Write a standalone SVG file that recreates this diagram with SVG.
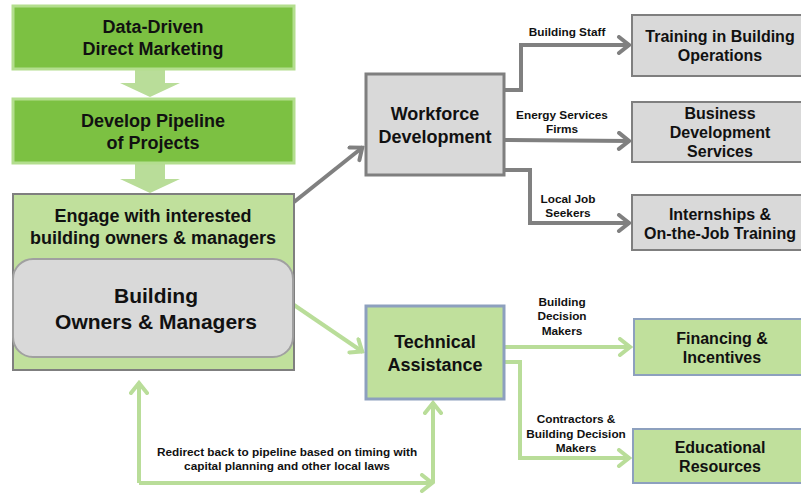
<svg xmlns="http://www.w3.org/2000/svg" width="801" height="493" viewBox="0 0 801 493">
<defs>
<style>
text{font-family:"Liberation Sans",Arial,sans-serif;font-weight:bold;fill:#111;text-anchor:middle}
.t18{font-size:18px}
.t21{font-size:21px}
.t16{font-size:16px}
.lbl{font-size:11.8px}
.gc{fill:none;stroke:#b9dd99;stroke-width:4}
.yc{fill:none;stroke:#808080;stroke-width:4}
</style>
<marker id="ag" markerUnits="userSpaceOnUse" viewBox="-14 -10 16 20" refX="0" refY="0" markerWidth="16" markerHeight="20" orient="auto">
<path d="M-11,-8 L-1,0 L-11,8" fill="none" stroke="#b9dd99" stroke-width="4" stroke-linecap="round" stroke-linejoin="miter"/>
</marker>
<marker id="ay" markerUnits="userSpaceOnUse" viewBox="-14 -10 16 20" refX="0" refY="0" markerWidth="16" markerHeight="20" orient="auto">
<path d="M-11,-8 L-1,0 L-11,8" fill="none" stroke="#808080" stroke-width="4" stroke-linecap="round" stroke-linejoin="miter"/>
</marker>
</defs>
<rect width="801" height="493" fill="#fff"/>

<g id="connectors">
<polygon points="135,70 165,70 165,83 180,83 150,97 120,83 135,83" fill="#b9dd99"/>
<polygon points="135,164 165,164 165,179 180,179 150,193 120,179 135,179" fill="#b9dd99"/>
<path class="yc" d="M294,202 L363,147" marker-end="url(#ay)"/>
<path class="yc" d="M505,90 H521 V45 H630" marker-end="url(#ay)"/>
<path class="yc" d="M505,140 L630,141" marker-end="url(#ay)"/>
<path class="yc" d="M505,170 H530 V223 H630" marker-end="url(#ay)"/>
<path class="gc" d="M294,305 L363,352" marker-end="url(#ag)"/>
<path class="gc" d="M505,347 H631" marker-end="url(#ag)"/>
<path class="gc" d="M505,362 H520 V458 H630" marker-end="url(#ag)"/>
<path class="gc" d="M139,483 V382" marker-end="url(#ag)"/>
<path class="gc" d="M139,483 H433" marker-end="url(#ag)"/>
<path class="gc" d="M433,483 V402" marker-end="url(#ag)"/>
<text class="lbl" x="567" y="36">Building Staff</text>
<text class="lbl" x="562" y="119">Energy Services</text>
<text class="lbl" x="562" y="133">Firms</text>
<text class="lbl" x="568" y="203">Local Job</text>
<text class="lbl" x="568" y="217">Seekers</text>
<text class="lbl" x="562" y="306">Building</text>
<text class="lbl" x="562" y="320">Decision</text>
<text class="lbl" x="562" y="335">Makers</text>
<text class="lbl" x="576" y="423">Contractors &amp;</text>
<text class="lbl" x="576" y="438">Building Decision</text>
<text class="lbl" x="576" y="452">Makers</text>
<text class="lbl" x="287" y="456">Redirect back to pipeline based on timing with</text>
<text class="lbl" x="287" y="470">capital planning and other local laws</text>
</g>

<g id="data-driven">
<rect x="13" y="6" width="281" height="63" fill="#7cc142" stroke="#b3de8e" stroke-width="3"/>
<text class="t18" x="153" y="33">Data-Driven</text>
<text class="t18" x="153" y="55">Direct Marketing</text>
</g>

<g id="pipeline">
<rect x="13" y="99" width="281" height="64" fill="#7cc142" stroke="#b3de8e" stroke-width="3"/>
<text class="t18" x="153" y="127">Develop Pipeline</text>
<text class="t18" x="153" y="149">of Projects</text>
</g>

<g id="engage">
<rect x="13" y="194" width="281" height="176" fill="#c0e09c" stroke="#7f7f7f" stroke-width="2"/>
<text class="t18" x="153" y="222">Engage with interested</text>
<text class="t18" x="153" y="244">building owners &amp; managers</text>
</g>

<g id="owners">
<rect x="13" y="259" width="280" height="98" rx="20" fill="#d9d9d9" stroke="#a0a0a0" stroke-width="2"/>
<text class="t21" x="156" y="303">Building</text>
<text class="t21" x="156" y="329">Owners &amp; Managers</text>
</g>

<g id="workforce">
<rect x="366" y="74" width="138" height="101" fill="#d9d9d9" stroke="#7f7f7f" stroke-width="3"/>
<text class="t18" x="435" y="120">Workforce</text>
<text class="t18" x="435" y="143">Development</text>
</g>

<g id="training">
<rect x="632" y="15" width="180" height="61" fill="#d9d9d9" stroke="#7f7f7f" stroke-width="2"/>
<text class="t16" x="720" y="42">Training in Building</text>
<text class="t16" x="720" y="61">Operations</text>
</g>

<g id="business">
<rect x="632" y="102" width="180" height="60" fill="#d9d9d9" stroke="#7f7f7f" stroke-width="2"/>
<text class="t16" x="720" y="119">Business</text>
<text class="t16" x="720" y="138">Development</text>
<text class="t16" x="720" y="157">Services</text>
</g>

<g id="internships">
<rect x="632" y="195" width="180" height="55" fill="#d9d9d9" stroke="#7f7f7f" stroke-width="2"/>
<text class="t16" x="720" y="220">Internships &amp;</text>
<text class="t16" x="720" y="239">On-the-Job Training</text>
</g>

<g id="technical">
<rect x="366" y="306" width="138" height="93" fill="#c0e09c" stroke="#8da0be" stroke-width="3"/>
<text class="t18" x="435" y="348">Technical</text>
<text class="t18" x="435" y="371">Assistance</text>
</g>

<g id="financing">
<rect x="634" y="319" width="180" height="56" fill="#c0e09c" stroke="#8da0be" stroke-width="2"/>
<text class="t16" x="722" y="344">Financing &amp;</text>
<text class="t16" x="722" y="363">Incentives</text>
</g>

<g id="educational">
<rect x="633" y="429" width="180" height="54" fill="#c0e09c" stroke="#8da0be" stroke-width="2"/>
<text class="t16" x="720" y="453">Educational</text>
<text class="t16" x="720" y="472">Resources</text>
</g>
</svg>
